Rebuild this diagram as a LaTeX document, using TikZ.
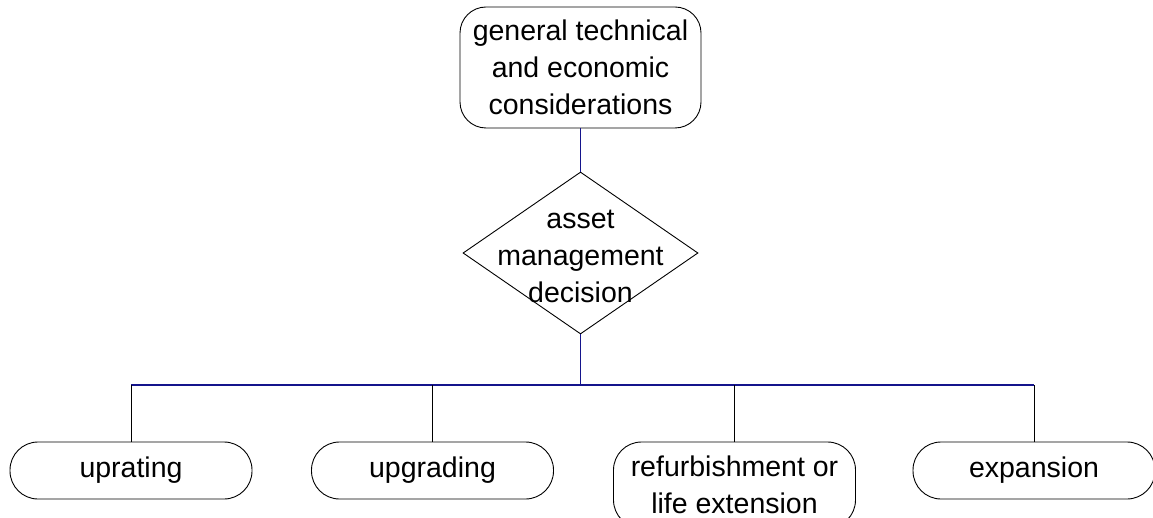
\documentclass[tikz,border=0pt]{standalone}
\usepackage{fontspec}
\setmainfont{Liberation Sans}
\usetikzlibrary{shapes.geometric}
\definecolor{busblue}{RGB}{20,20,140}
\begin{document}
\begin{tikzpicture}[x=1pt,y=-1pt,
  txt/.style={align=center, font=\fontsize{28.5}{37}\selectfont, inner sep=0pt},
  box/.style={txt, draw, line width=0.9pt, rounded corners=#1},
  leaf/.style={box=28, minimum width=242, minimum height=57},
  bus/.style={draw=busblue, line width=1.1pt},
  branch/.style={draw=black, line width=0.9pt}]
\useasboundingbox (0,0) rectangle (1153,518);
\node[box=26, minimum width=241, minimum height=121] (top) at (580.5,67.5)
  {general technical\\and economic\\considerations};
\node[draw, diamond, line width=0.9pt, minimum width=235, minimum height=162, inner sep=0pt] (dec) at (580.5,253) {};
\node[txt] (dectext) at (580.5,256) {asset\\management\\decision};
\node[leaf] (b1) at (131,470.5) {uprating};
\node[leaf] (b2) at (432.5,470.5) {upgrading};
\node[leaf, minimum height=86] (b3) at (734.5,485) {refurbishment or\\life extension};
\node[leaf] (b4) at (1034,470.5) {expansion};
\coordinate (busy) at (580.5,385);
\draw[bus] (top.south) -- (dec.north);
\draw[bus] (dec.south) -- (dec.south |- busy);
\draw[bus] (b1.north |- busy) -- (b4.north |- busy);
\foreach \b in {b1,b2,b3,b4}
  \draw[branch] (\b.north |- busy) -- (\b.north);
\end{tikzpicture}
\end{document}
